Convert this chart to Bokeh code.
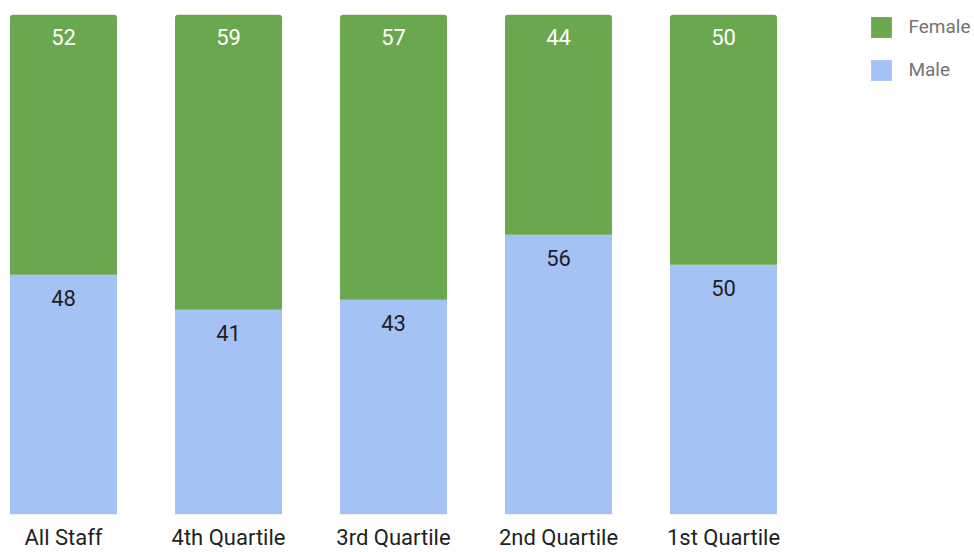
from bokeh.plotting import figure
from bokeh.models import ColumnDataSource, Range1d, FixedTicker, Legend, LegendItem
from bokeh.transform import stack
from bokeh.core.properties import value
from bokeh.embed import file_html
from bokeh.resources import INLINE

categories = ["All Staff", "4th Quartile", "3rd Quartile", "2nd Quartile", "1st Quartile"]
female = [52, 59, 57, 44, 50]
male = [48, 41, 43, 56, 50]

GREEN = "#6aa84f"
BLUE = "#a4c2f4"
FONT = "Roboto"

xpos = list(range(len(categories)))
source = ColumnDataSource(dict(
    x=xpos, cat=categories, Female=female, Male=male,
    flab=[str(v) for v in female], mlab=[str(v) for v in male],
))

W, H = 974, 552
PX_PER_X = 165.0
x_start = -63.0 / PX_PER_X
x_end = x_start + W / PX_PER_X
frame_h = 516
PX_PER_Y = 5.016
y_end = frame_h / PX_PER_Y

p = figure(width=W, height=H, output_backend="svg", toolbar_location=None,
           x_range=Range1d(x_start, x_end), y_range=Range1d(0, y_end),
           min_border_left=0, min_border_right=0, min_border_top=0,
           min_border_bottom=H - frame_h)
p.outline_line_color = None
p.grid.grid_line_color = None
p.yaxis.visible = False
p.background_fill_color = "white"
p.border_fill_color = "white"

bw = 107.0 / PX_PER_X
rm = p.vbar(x="x", width=bw, bottom=0, top=stack("Male"), source=source,
            fill_color=BLUE, line_color=None)
rf = p.vbar(x="x", width=bw, bottom=stack("Male"), top=stack("Male", "Female"), source=source,
            fill_color=GREEN, line_color=None, border_radius=(3, 3, 0, 0))

p.text(x="x", y=stack("Male", "Female"), text="flab", source=source,
       text_font=value(FONT), text_font_size="22px", text_color="#ffffff",
       text_align="center", text_baseline="alphabetic", y_offset=22.5)
p.text(x="x", y=stack("Male"), text="mlab", source=source,
       text_font=value(FONT), text_font_size="22px", text_color="#1f1f1f",
       text_align="center", text_baseline="alphabetic", y_offset=23.0)

ax = p.xaxis[0]
ax.ticker = FixedTicker(ticks=xpos)
ax.major_label_overrides = {i: c for i, c in zip(xpos, categories)}
ax.axis_line_color = None
ax.major_tick_line_color = None
ax.minor_tick_line_color = None
ax.major_tick_out = 0
ax.major_tick_in = 0
ax.major_label_standoff = 10
ax.major_label_text_font = FONT
ax.major_label_text_font_size = "22px"
ax.major_label_text_color = "#1f1f1f"

legend = Legend(items=[LegendItem(label="Female", renderers=[rf]),
                       LegendItem(label="Male", renderers=[rm])],
                location=(868.4, frame_h - 15.8 - 69))
legend.border_line_color = None
legend.background_fill_alpha = 0
legend.padding = 0
legend.margin = 0
legend.glyph_width = 26
legend.glyph_height = 26
legend.label_standoff = 14
legend.spacing = 17
legend.label_text_font = FONT
legend.label_text_font_size = "19px"
legend.label_text_color = "#737373"
legend.label_height = 22
p.add_layout(legend)

open("out.html", "w").write(file_html(p, INLINE))
